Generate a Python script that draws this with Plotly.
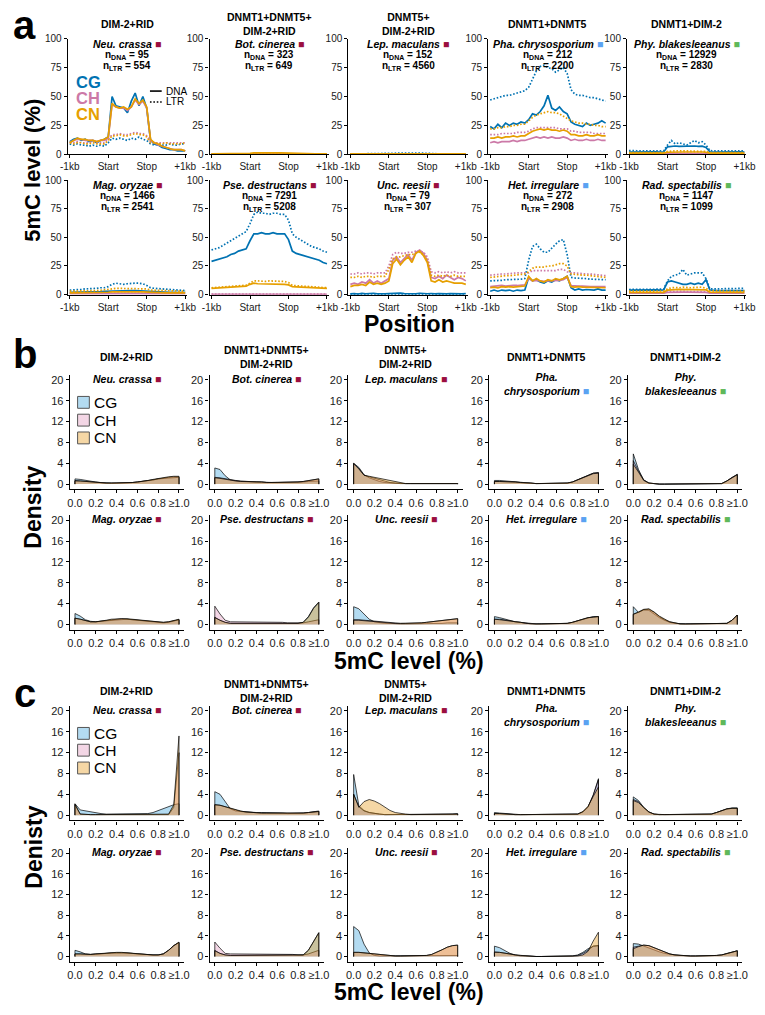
import plotly.graph_objects as go

FONT = "Liberation Sans, Arial, sans-serif"
W, H = 765, 1015
OFF = 8  # the page body adds an 8px margin around the figure

# ---------------- panel a: 5mC profiles over TEs (31 bins) ----------------
POS = list(range(31))
POS_TICKS = [0, 10, 20, 30]
POS_LABELS = ["-1kb", "Start", "Stop", "+1kb"]
LEVEL_TICKS = [0, 25, 50, 75, 100]

NEU_CG_DNA = [11, 13, 14, 12, 13, 11, 12, 10, 12, 13, 15, 50, 42, 41, 40, 36, 46, 53, 42, 50, 40, 12, 9, 8, 6, 5, 4, 4, 3, 3, 3]
NEU_CH_DNA = [10, 12, 13, 13, 12, 12, 12, 11, 12, 12, 14, 43, 41, 40, 40, 38, 41, 47, 43, 46, 40, 12, 10, 8, 7, 6, 5, 4, 4, 4, 3]
NEU_CN_DNA = [10, 12, 14, 13, 13, 12, 12, 11, 12, 13, 15, 44, 41, 40, 41, 39, 41, 48, 44, 47, 41, 13, 10, 9, 7, 6, 5, 4, 4, 4, 3]
NEU_CG_LTR = [9, 8, 9, 8, 8, 7, 8, 7, 8, 7, 10, 14, 13, 14, 13, 12, 14, 13, 15, 13, 12, 9, 8, 9, 8, 8, 9, 8, 8, 9, 9]
NEU_CH_LTR = [10, 10, 11, 10, 10, 10, 11, 10, 10, 10, 13, 17, 17, 18, 17, 17, 18, 19, 18, 18, 16, 11, 10, 10, 10, 10, 10, 10, 10, 10, 10]
NEU_CN_LTR = [10, 9, 10, 10, 9, 9, 10, 9, 9, 9, 12, 16, 16, 17, 16, 16, 17, 18, 17, 17, 15, 10, 10, 9, 9, 10, 9, 9, 9, 9, 10]

BOT_CG_DNA = [0.2, 0.2, 0.3, 0.2, 0.2, 0.3, 0.2, 0.2, 0.3, 0.2, 0.4, 0.5, 0.6, 0.5, 0.6, 0.5, 0.6, 0.5, 0.5, 0.6, 0.4, 0.3, 0.2, 0.2, 0.3, 0.2, 0.2, 0.2, 0.3, 0.2, 0.2]
BOT_CH_DNA = [0.3, 0.3, 0.3, 0.3, 0.4, 0.3, 0.3, 0.3, 0.4, 0.3, 0.5, 0.7, 0.8, 0.7, 0.8, 0.8, 0.9, 0.8, 0.7, 0.7, 0.5, 0.3, 0.3, 0.3, 0.4, 0.3, 0.3, 0.3, 0.3, 0.3, 0.3]
BOT_CN_DNA = [0.4, 0.4, 0.5, 0.4, 0.4, 0.5, 0.4, 0.5, 0.4, 0.5, 0.8, 1.2, 1.3, 1.2, 1.4, 1.3, 1.5, 1.3, 1.2, 1.1, 0.8, 0.5, 0.4, 0.4, 0.5, 0.4, 0.4, 0.4, 0.5, 0.4, 0.4]
BOT_CG_LTR = [0.3, 0.3, 0.3, 0.3, 0.3, 0.3, 0.3, 0.3, 0.3, 0.3, 0.4, 0.5, 0.5, 0.5, 0.5, 0.5, 0.5, 0.5, 0.5, 0.5, 0.4, 0.3, 0.3, 0.3, 0.3, 0.3, 0.3, 0.3, 0.3, 0.3, 0.3]
BOT_CH_LTR = [0.4, 0.4, 0.4, 0.4, 0.4, 0.4, 0.4, 0.4, 0.4, 0.4, 0.5, 0.6, 0.6, 0.6, 0.6, 0.6, 0.6, 0.6, 0.6, 0.6, 0.5, 0.4, 0.4, 0.4, 0.4, 0.4, 0.4, 0.4, 0.4, 0.4, 0.4]
BOT_CN_LTR = [0.5, 0.5, 0.5, 0.5, 0.5, 0.5, 0.5, 0.5, 0.5, 0.5, 0.6, 0.8, 0.8, 0.8, 0.8, 0.8, 0.8, 0.8, 0.8, 0.8, 0.6, 0.5, 0.5, 0.5, 0.5, 0.5, 0.5, 0.5, 0.5, 0.5, 0.5]

LEP_CG_DNA = [0.2, 0.2, 0.2, 0.2, 0.2, 0.2, 0.2, 0.2, 0.2, 0.2, 0.3, 0.4, 0.4, 0.4, 0.4, 0.4, 0.4, 0.4, 0.4, 0.4, 0.3, 0.2, 0.2, 0.2, 0.2, 0.2, 0.2, 0.2, 0.2, 0.2, 0.2]
LEP_CH_DNA = [0.2, 0.2, 0.2, 0.2, 0.2, 0.2, 0.2, 0.2, 0.2, 0.2, 0.2, 0.3, 0.3, 0.3, 0.3, 0.3, 0.3, 0.3, 0.3, 0.3, 0.2, 0.2, 0.2, 0.2, 0.2, 0.2, 0.2, 0.2, 0.2, 0.2, 0.2]
LEP_CN_DNA = [0.3, 0.3, 0.3, 0.3, 0.3, 0.3, 0.3, 0.3, 0.3, 0.3, 0.3, 0.4, 0.4, 0.4, 0.4, 0.4, 0.4, 0.4, 0.4, 0.4, 0.3, 0.3, 0.3, 0.3, 0.3, 0.3, 0.3, 0.3, 0.3, 0.3, 0.3]
LEP_CG_LTR = [0.3, 0.3, 0.3, 0.3, 0.3, 0.3, 0.3, 0.3, 0.3, 0.3, 0.6, 0.9, 1.0, 0.9, 1.1, 1.0, 0.9, 1.0, 1.1, 0.9, 0.6, 0.3, 0.3, 0.3, 0.3, 0.3, 0.3, 0.3, 0.3, 0.3, 0.3]
LEP_CH_LTR = [0.2, 0.2, 0.2, 0.2, 0.2, 0.2, 0.2, 0.2, 0.2, 0.2, 0.3, 0.3, 0.3, 0.3, 0.3, 0.3, 0.3, 0.3, 0.3, 0.3, 0.3, 0.2, 0.2, 0.2, 0.2, 0.2, 0.2, 0.2, 0.2, 0.2, 0.2]
LEP_CN_LTR = [0.3, 0.3, 0.3, 0.3, 0.3, 0.3, 0.3, 0.3, 0.3, 0.3, 0.4, 0.5, 0.5, 0.5, 0.5, 0.5, 0.5, 0.5, 0.5, 0.5, 0.4, 0.3, 0.3, 0.3, 0.3, 0.3, 0.3, 0.3, 0.3, 0.3, 0.3]

PHA_CG_DNA = [24, 22, 26, 23, 27, 25, 27, 26, 28, 27, 30, 35, 34, 37, 42, 51, 40, 38, 41, 37, 35, 28, 26, 25, 24, 27, 25, 26, 27, 29, 27]
PHA_CH_DNA = [10, 11, 10, 11, 11, 11, 12, 11, 12, 12, 13, 14, 15, 14, 15, 14, 15, 14, 14, 15, 14, 12, 13, 12, 12, 13, 12, 12, 13, 12, 12]
PHA_CN_DNA = [14, 14, 15, 14, 15, 15, 16, 15, 16, 16, 18, 20, 21, 22, 21, 22, 21, 21, 20, 21, 20, 17, 17, 16, 16, 17, 16, 16, 17, 16, 16]
PHA_CG_LTR = [47, 48, 49, 50, 51, 51, 52, 53, 54, 55, 58, 65, 72, 76, 77, 75, 74, 71, 73, 75, 70, 56, 52, 51, 51, 50, 49, 49, 48, 47, 46]
PHA_CH_LTR = [17, 17, 17, 18, 18, 18, 18, 19, 19, 19, 20, 22, 23, 23, 23, 23, 23, 23, 22, 22, 22, 20, 20, 19, 19, 19, 19, 18, 18, 18, 18]
PHA_CN_LTR = [22, 22, 23, 23, 24, 24, 25, 25, 26, 26, 29, 32, 34, 35, 36, 37, 36, 36, 35, 33, 31, 29, 28, 27, 27, 26, 26, 25, 25, 24, 24]

PHY_CG_DNA = [2.0, 2.1, 2.0, 2.1, 2.0, 2.1, 2.0, 2.1, 2.0, 2.1, 6.5, 7.0, 7.2, 6.8, 7.0, 6.6, 7.0, 7.2, 6.9, 7.0, 6.0, 2.2, 2.0, 2.1, 2.0, 2.1, 2.0, 2.1, 2.0, 2.1, 2.0]
PHY_CH_DNA = [0.5, 0.5, 0.5, 0.5, 0.5, 0.5, 0.5, 0.5, 0.5, 0.5, 0.7, 0.8, 0.8, 0.8, 0.8, 0.8, 0.8, 0.8, 0.8, 0.8, 0.7, 0.5, 0.5, 0.5, 0.5, 0.5, 0.5, 0.5, 0.5, 0.5, 0.5]
PHY_CN_DNA = [1.0, 1.0, 1.0, 1.0, 1.0, 1.0, 1.0, 1.0, 1.0, 1.0, 1.8, 2.0, 2.0, 2.1, 2.0, 2.0, 2.1, 2.0, 2.0, 2.0, 1.8, 1.0, 1.0, 1.0, 1.0, 1.0, 1.0, 1.0, 1.0, 1.0, 1.0]
PHY_CG_LTR = [3.2, 2.9, 3.1, 3.0, 3.2, 2.9, 3.1, 3.0, 3.2, 3.0, 8.0, 12.0, 9.0, 10.0, 9.0, 8.0, 10.0, 12.0, 10.0, 11.0, 8.0, 3.2, 3.0, 3.1, 2.9, 3.0, 3.2, 3.0, 3.1, 2.9, 3.0]
PHY_CH_LTR = [0.8, 0.8, 0.8, 0.8, 0.8, 0.8, 0.8, 0.8, 0.8, 0.8, 1.0, 1.2, 1.2, 1.2, 1.2, 1.2, 1.2, 1.2, 1.2, 1.2, 1.0, 0.8, 0.8, 0.8, 0.8, 0.8, 0.8, 0.8, 0.8, 0.8, 0.8]
PHY_CN_LTR = [1.5, 1.5, 1.5, 1.5, 1.5, 1.5, 1.5, 1.5, 1.5, 1.5, 2.5, 3.0, 3.0, 3.1, 3.0, 3.0, 3.1, 3.0, 3.0, 3.0, 2.5, 1.6, 1.5, 1.5, 1.5, 1.5, 1.5, 1.5, 1.5, 1.5, 1.5]

MAG_CG_DNA = [2.0, 2.0, 2.0, 2.1, 2.2, 2.2, 2.4, 2.5, 2.6, 2.8, 3.0, 3.2, 3.4, 3.5, 3.4, 3.5, 3.6, 3.5, 3.3, 3.2, 3.0, 2.5, 2.3, 2.2, 2.0, 2.0, 2.0, 2.0, 1.9, 1.8, 1.8]
MAG_CH_DNA = [0.8, 0.8, 0.8, 0.8, 0.8, 0.8, 0.9, 0.9, 0.9, 0.9, 1.0, 1.1, 1.1, 1.1, 1.1, 1.1, 1.1, 1.1, 1.1, 1.1, 1.0, 0.9, 0.9, 0.9, 0.8, 0.8, 0.8, 0.8, 0.8, 0.8, 0.8]
MAG_CN_DNA = [1.5, 1.5, 1.5, 1.6, 1.6, 1.7, 1.7, 1.8, 1.8, 1.9, 2.1, 2.4, 2.5, 2.6, 2.5, 2.6, 2.6, 2.5, 2.5, 2.4, 2.2, 1.8, 1.7, 1.7, 1.6, 1.6, 1.6, 1.5, 1.5, 1.5, 1.5]
MAG_CG_LTR = [4.0, 4.0, 4.2, 4.5, 5.0, 5.0, 5.2, 5.5, 6.0, 6.0, 7.0, 9.0, 10.0, 9.5, 9.0, 9.5, 10.0, 10.0, 10.0, 9.5, 8.0, 6.0, 5.5, 5.2, 5.0, 5.0, 4.5, 4.5, 4.2, 4.0, 3.5]
MAG_CH_LTR = [1.2, 1.2, 1.2, 1.2, 1.3, 1.3, 1.3, 1.3, 1.4, 1.4, 1.5, 1.7, 1.8, 1.8, 1.8, 1.8, 1.8, 1.8, 1.8, 1.7, 1.6, 1.4, 1.4, 1.3, 1.3, 1.3, 1.2, 1.2, 1.2, 1.2, 1.2]
MAG_CN_LTR = [3.0, 3.0, 3.0, 3.2, 3.3, 3.4, 3.5, 3.6, 3.8, 4.0, 4.5, 5.0, 5.5, 5.5, 5.5, 5.6, 5.6, 5.5, 5.5, 5.4, 5.0, 4.0, 3.8, 3.6, 3.5, 3.4, 3.3, 3.2, 3.1, 3.0, 3.0]

PSE_CG_DNA = [29, 30, 31, 32, 33, 35, 36, 38, 39, 40, 47, 53, 53, 54, 53, 53, 54, 53, 53, 53, 48, 38, 36, 35, 34, 33, 32, 31, 30, 28, 27]
PSE_CH_DNA = [0.3, 0.3, 0.3, 0.3, 0.3, 0.3, 0.3, 0.3, 0.3, 0.3, 0.4, 0.4, 0.4, 0.4, 0.4, 0.4, 0.4, 0.4, 0.4, 0.4, 0.4, 0.3, 0.3, 0.3, 0.3, 0.3, 0.3, 0.3, 0.3, 0.3, 0.3]
PSE_CN_DNA = [5.5, 5.7, 6.0, 6.2, 6.4, 6.6, 6.8, 7.0, 7.2, 7.4, 9.0, 10.0, 9.5, 9.5, 9.5, 9.2, 9.2, 9.0, 9.0, 9.0, 8.5, 7.0, 6.8, 6.6, 6.4, 6.2, 6.0, 5.8, 5.6, 5.5, 5.4]
PSE_CG_LTR = [39, 40, 41, 43, 45, 47, 49, 51, 53, 55, 62, 70, 72, 71, 71, 70, 71, 71, 70, 70, 65, 53, 50, 48, 46, 44, 42, 41, 40, 38, 37]
PSE_CH_LTR = [0.4, 0.4, 0.4, 0.4, 0.4, 0.4, 0.4, 0.4, 0.4, 0.4, 0.5, 0.5, 0.5, 0.5, 0.5, 0.5, 0.5, 0.5, 0.5, 0.5, 0.5, 0.4, 0.4, 0.4, 0.4, 0.4, 0.4, 0.4, 0.4, 0.4, 0.4]
PSE_CN_LTR = [6.0, 6.2, 6.5, 6.8, 7.0, 7.2, 7.5, 7.8, 8.0, 8.2, 10.0, 12.0, 12.0, 11.5, 11.5, 12.0, 12.0, 12.0, 11.5, 11.5, 10.5, 8.0, 7.8, 7.5, 7.2, 7.0, 6.8, 6.5, 6.3, 6.0, 6.0]

UNC_CG_DNA = [0.6, 0.9, 0.5, 1.1, 0.7, 0.8, 1.2, 0.6, 0.9, 0.7, 0.8, 1.0, 0.7, 1.3, 0.9, 0.8, 1.1, 0.7, 1.2, 0.9, 0.8, 1.0, 0.6, 0.9, 1.1, 0.7, 0.8, 0.6, 0.9, 0.7, 0.8]
UNC_CH_DNA = [9, 10, 9, 11, 10, 13, 10, 12, 10, 12, 14, 30, 33, 28, 32, 35, 30, 37, 39, 36, 30, 15, 14, 16, 14, 17, 15, 13, 15, 14, 12]
UNC_CN_DNA = [7, 8, 8, 9, 8, 11, 9, 10, 9, 10, 12, 27, 31, 26, 30, 33, 28, 36, 38, 34, 28, 12, 11, 13, 11, 12, 11, 10, 10, 10, 9]
UNC_CG_LTR = [0.5, 0.5, 0.6, 0.5, 0.5, 0.6, 0.5, 0.5, 0.6, 0.5, 0.6, 0.7, 0.7, 0.7, 0.7, 0.7, 0.7, 0.7, 0.7, 0.7, 0.6, 0.5, 0.5, 0.6, 0.5, 0.5, 0.6, 0.5, 0.5, 0.5, 0.5]
UNC_CH_LTR = [18, 18, 19, 18, 19, 19, 18, 19, 19, 19, 25, 35, 37, 36, 36, 37, 37, 38, 38, 37, 33, 20, 19, 20, 19, 20, 19, 20, 19, 19, 19]
UNC_CN_LTR = [15, 15, 16, 15, 16, 16, 15, 16, 16, 16, 22, 31, 33, 33, 34, 35, 35, 36, 37, 35, 30, 17, 16, 17, 16, 17, 16, 17, 16, 16, 16]

HET_CG_DNA = [3, 4, 3, 4, 3.5, 4, 3, 4, 3.5, 4, 15, 12, 13, 11, 10, 12, 11, 13, 12, 14, 16, 6, 4, 5, 4, 4.5, 4, 4, 5, 4, 4]
HET_CH_DNA = [7, 7.5, 7.5, 8, 7.5, 8, 8, 8, 8, 8.5, 14, 12, 12.5, 12, 11.5, 12, 12, 12.5, 12.5, 13, 15, 8, 7.5, 7.5, 7.5, 7, 7, 7, 7, 7, 7]
HET_CN_DNA = [6, 6.5, 6, 7, 6.5, 7, 6.5, 7, 7, 7.5, 16, 12, 14, 12, 11, 13, 12, 14, 13, 14, 16, 7, 6.5, 7, 6.5, 6.5, 6, 6.5, 6.5, 6, 6]
HET_CG_LTR = [12, 12, 12.5, 12.5, 13, 13, 13, 13.5, 13.5, 14, 30, 42, 44, 40, 37, 37, 41, 44, 47, 48, 35, 15, 14.5, 14.5, 14, 14, 13.5, 13.5, 13, 13, 13]
HET_CH_LTR = [17, 17.5, 18, 18, 18, 18.5, 18.5, 19, 19, 19, 19, 21, 21, 21, 21, 21, 21, 21, 22, 22, 20, 19, 19, 18.5, 18.5, 18, 18, 17.5, 17.5, 17, 16.5]
HET_CN_LTR = [15, 15.5, 16, 16, 16.5, 16.5, 17, 17, 17.5, 18, 20, 23, 24, 24, 24, 25, 25, 26, 27, 27, 25, 18, 17.5, 17.5, 17, 17, 16.5, 16.5, 16, 15.5, 15]

RAD_CG_DNA = [4.0, 4.1, 3.9, 4.0, 4.1, 3.9, 4.0, 4.1, 4.0, 4.1, 11.0, 12.0, 11.0, 10.0, 9.0, 9.0, 10.0, 9.0, 10.0, 9.0, 13.0, 4.0, 3.6, 3.5, 3.6, 3.5, 3.6, 3.5, 3.6, 3.5, 3.5]
RAD_CH_DNA = [1.2, 1.2, 1.2, 1.2, 1.2, 1.2, 1.2, 1.2, 1.2, 1.2, 2.0, 2.2, 2.2, 2.2, 2.2, 2.2, 2.2, 2.2, 2.2, 2.2, 2.0, 1.3, 1.2, 1.2, 1.2, 1.2, 1.2, 1.2, 1.2, 1.2, 1.2]
RAD_CN_DNA = [2.0, 2.0, 2.0, 2.0, 2.0, 2.0, 2.0, 2.0, 2.0, 2.0, 4.0, 4.5, 4.4, 4.6, 4.5, 4.4, 4.6, 4.5, 4.5, 4.6, 4.2, 2.2, 2.1, 2.0, 2.0, 2.0, 2.0, 2.0, 2.0, 2.0, 2.0]
RAD_CG_LTR = [4.5, 4.5, 4.5, 4.6, 4.6, 4.7, 4.7, 4.8, 4.8, 4.8, 12.0, 16.0, 17.0, 18.0, 22.0, 17.0, 18.0, 19.0, 19.0, 19.0, 14.0, 5.0, 5.0, 5.0, 5.0, 5.0, 5.0, 5.0, 5.0, 5.5, 5.5]
RAD_CH_LTR = [1.5, 1.5, 1.5, 1.5, 1.5, 1.5, 1.5, 1.5, 1.5, 1.5, 2.5, 2.8, 2.8, 2.8, 2.8, 2.8, 2.8, 2.8, 2.8, 2.8, 2.5, 1.6, 1.5, 1.5, 1.5, 1.5, 1.5, 1.5, 1.5, 1.5, 1.5]
RAD_CN_LTR = [3.0, 3.0, 3.1, 3.0, 3.1, 3.0, 3.2, 3.1, 3.2, 3.2, 5.0, 6.0, 6.2, 6.0, 6.5, 6.2, 6.0, 6.3, 6.4, 6.5, 5.5, 3.4, 3.3, 3.3, 3.2, 3.2, 3.1, 3.1, 3.0, 3.0, 3.0]

# ---------------- panels b/c: density of 5mC level ----------------
DENS_X = [0.0, 0.05, 0.1, 0.15, 0.2, 0.25, 0.3, 0.35, 0.4, 0.45, 0.5,
          0.55, 0.6, 0.65, 0.7, 0.75, 0.8, 0.85, 0.9, 0.95, 1.0]
DENS_TICKS = [0.0, 0.2, 0.4, 0.6, 0.8, 1.0]
DENS_LABELS = ["0.0", "0.2", "0.4", "0.6", "0.8", "≥1.0"]
DENS_YTICKS = [0, 4, 8, 12, 16, 20]

# panel b
B_NEU_CG = [1.0, 0.9, 0.7, 0.5, 0.4, 0.3, 0.2, 0.2, 0.2, 0.2, 0.3, 0.3, 0.4, 0.5, 0.6, 0.8, 1.0, 1.1, 1.2, 1.3, 1.3]
B_NEU_CH = [0.7, 0.6, 0.5, 0.4, 0.3, 0.3, 0.2, 0.2, 0.2, 0.2, 0.3, 0.3, 0.4, 0.5, 0.6, 0.8, 1.0, 1.2, 1.3, 1.4, 1.4]
B_NEU_CN = [0.6, 0.6, 0.5, 0.4, 0.3, 0.3, 0.2, 0.2, 0.2, 0.2, 0.3, 0.3, 0.4, 0.5, 0.7, 0.9, 1.1, 1.3, 1.4, 1.5, 1.5]
B_BOT_CG = [3.1, 2.8, 1.6, 0.8, 0.6, 0.5, 0.5, 0.5, 0.4, 0.4, 0.3, 0.3, 0.3, 0.3, 0.3, 0.3, 0.3, 0.4, 0.5, 0.6, 0.6]
B_BOT_CH = [1.3, 1.2, 1.0, 0.8, 0.7, 0.6, 0.5, 0.5, 0.4, 0.4, 0.3, 0.3, 0.3, 0.3, 0.3, 0.3, 0.4, 0.5, 0.7, 0.9, 1.0]
B_BOT_CN = [1.2, 1.1, 0.9, 0.7, 0.6, 0.5, 0.5, 0.4, 0.4, 0.4, 0.3, 0.3, 0.3, 0.3, 0.3, 0.3, 0.4, 0.5, 0.7, 0.9, 1.0]
B_LEP_CG = [4.0, 3.2, 1.8, 1.2, 0.8, 0.5, 0.3, 0.2, 0.1, 0.1, 0.1, 0.1, 0.1, 0.1, 0.1, 0.1, 0.1, 0.1, 0.1, 0.1, 0.1]
B_LEP_CH = [4.0, 3.0, 1.7, 1.4, 1.1, 0.8, 0.5, 0.3, 0.2, 0.1, 0.1, 0.1, 0.1, 0.1, 0.1, 0.1, 0.1, 0.1, 0.1, 0.1, 0.1]
B_LEP_CN = [3.9, 2.9, 1.7, 1.5, 1.3, 1.1, 0.9, 0.6, 0.4, 0.2, 0.1, 0.1, 0.1, 0.1, 0.1, 0.1, 0.1, 0.1, 0.1, 0.1, 0.1]
B_PHA_CG = [0.7, 0.7, 0.6, 0.5, 0.4, 0.3, 0.3, 0.2, 0.1, 0.1, 0.1, 0.1, 0.1, 0.1, 0.2, 0.4, 0.8, 1.2, 1.7, 2.1, 2.2]
B_PHA_CH = [0.5, 0.5, 0.5, 0.4, 0.4, 0.3, 0.3, 0.2, 0.1, 0.1, 0.1, 0.1, 0.1, 0.1, 0.2, 0.4, 0.8, 1.2, 1.7, 2.1, 2.2]
B_PHA_CN = [0.5, 0.5, 0.5, 0.4, 0.4, 0.3, 0.3, 0.2, 0.1, 0.1, 0.1, 0.1, 0.1, 0.1, 0.2, 0.4, 0.8, 1.2, 1.7, 2.0, 2.1]
B_PHY_CG = [5.8, 2.8, 0.8, 0.2, 0.05, 0.0, 0.0, 0.0, 0.0, 0.0, 0.0, 0.0, 0.0, 0.0, 0.0, 0.0, 0.0, 0.1, 0.6, 1.3, 1.9]
B_PHY_CH = [4.5, 2.5, 0.8, 0.2, 0.05, 0.0, 0.0, 0.0, 0.0, 0.0, 0.0, 0.0, 0.0, 0.0, 0.0, 0.0, 0.0, 0.1, 0.6, 1.3, 1.8]
B_PHY_CN = [3.8, 2.3, 0.7, 0.2, 0.05, 0.0, 0.0, 0.0, 0.0, 0.0, 0.0, 0.0, 0.0, 0.0, 0.0, 0.0, 0.0, 0.1, 0.6, 1.2, 1.8]
B_MAG_CG = [2.1, 1.6, 0.9, 0.6, 0.5, 0.6, 0.7, 0.8, 0.9, 1.0, 1.0, 0.9, 0.8, 0.7, 0.6, 0.5, 0.4, 0.3, 0.4, 0.7, 0.9]
B_MAG_CH = [1.2, 1.0, 0.7, 0.5, 0.5, 0.6, 0.8, 0.9, 1.0, 1.1, 1.0, 0.9, 0.8, 0.7, 0.6, 0.5, 0.4, 0.4, 0.5, 0.7, 0.9]
B_MAG_CN = [1.2, 1.0, 0.7, 0.5, 0.5, 0.6, 0.8, 1.0, 1.1, 1.1, 1.1, 1.0, 0.9, 0.7, 0.6, 0.5, 0.4, 0.4, 0.5, 0.8, 1.0]
B_PSE_CG = [1.4, 0.8, 0.4, 0.2, 0.2, 0.2, 0.2, 0.2, 0.2, 0.2, 0.2, 0.2, 0.2, 0.2, 0.2, 0.2, 0.2, 0.4, 1.5, 3.2, 4.3]
B_PSE_CH = [3.5, 2.0, 0.8, 0.5, 0.5, 0.5, 0.5, 0.5, 0.5, 0.5, 0.4, 0.4, 0.4, 0.4, 0.3, 0.3, 0.2, 0.3, 0.5, 0.7, 0.9]
B_PSE_CN = [1.3, 0.8, 0.4, 0.2, 0.2, 0.2, 0.2, 0.2, 0.2, 0.2, 0.2, 0.2, 0.2, 0.2, 0.2, 0.2, 0.2, 0.4, 1.4, 3.1, 4.2]
B_UNC_CG = [3.4, 3.0, 2.0, 1.0, 0.5, 0.3, 0.2, 0.2, 0.1, 0.1, 0.1, 0.1, 0.1, 0.1, 0.1, 0.1, 0.2, 0.2, 0.3, 0.3, 0.3]
B_UNC_CH = [0.9, 0.9, 0.8, 0.7, 0.6, 0.5, 0.4, 0.3, 0.2, 0.2, 0.2, 0.2, 0.2, 0.3, 0.4, 0.5, 0.7, 0.8, 0.9, 1.0, 1.1]
B_UNC_CN = [0.8, 0.8, 0.7, 0.7, 0.6, 0.5, 0.4, 0.3, 0.2, 0.2, 0.2, 0.2, 0.2, 0.3, 0.4, 0.5, 0.7, 0.8, 0.9, 1.0, 1.1]
B_HET_CG = [1.5, 1.3, 1.0, 0.8, 0.5, 0.4, 0.2, 0.1, 0.1, 0.1, 0.1, 0.1, 0.1, 0.1, 0.2, 0.4, 0.7, 1.0, 1.3, 1.5, 1.5]
B_HET_CH = [1.0, 1.0, 0.9, 0.7, 0.5, 0.4, 0.2, 0.1, 0.1, 0.1, 0.1, 0.1, 0.1, 0.1, 0.2, 0.4, 0.7, 1.0, 1.3, 1.4, 1.5]
B_HET_CN = [1.0, 0.9, 0.8, 0.7, 0.5, 0.4, 0.2, 0.1, 0.1, 0.1, 0.1, 0.1, 0.1, 0.1, 0.2, 0.4, 0.7, 1.0, 1.3, 1.4, 1.5]
B_RAD_CG = [3.4, 2.3, 2.8, 2.7, 2.0, 1.3, 0.8, 0.4, 0.2, 0.1, 0.1, 0.1, 0.1, 0.1, 0.1, 0.1, 0.1, 0.1, 0.2, 0.8, 1.8]
B_RAD_CH = [2.0, 2.3, 2.8, 2.9, 2.3, 1.5, 0.9, 0.5, 0.3, 0.1, 0.1, 0.1, 0.1, 0.1, 0.1, 0.1, 0.1, 0.1, 0.2, 0.8, 1.8]
B_RAD_CN = [1.9, 2.4, 2.9, 3.0, 2.4, 1.6, 1.0, 0.5, 0.3, 0.1, 0.1, 0.1, 0.1, 0.1, 0.1, 0.1, 0.1, 0.1, 0.2, 0.8, 1.8]

# panel c
C_NEU_CG = [2.2, 1.0, 0.8, 0.6, 0.4, 0.3, 0.2, 0.2, 0.2, 0.2, 0.2, 0.2, 0.2, 0.2, 0.3, 0.5, 0.9, 1.3, 1.7, 2.0, 2.2]
C_NEU_CH = [2.0, 0.2, 0.1, 0.1, 0.1, 0.1, 0.2, 0.2, 0.1, 0.2, 0.1, 0.1, 0.1, 0.1, 0.1, 0.1, 0.1, 0.1, 0.1, 1.5, 12.0]
C_NEU_CN = [2.1, 0.2, 0.1, 0.1, 0.1, 0.1, 0.2, 0.2, 0.1, 0.2, 0.1, 0.1, 0.1, 0.1, 0.1, 0.1, 0.1, 0.1, 0.2, 2.0, 15.2]
C_BOT_CG = [4.5, 4.0, 2.6, 1.2, 0.8, 0.7, 0.6, 0.6, 0.5, 0.5, 0.5, 0.4, 0.4, 0.4, 0.3, 0.3, 0.3, 0.4, 0.5, 0.7, 0.8]
C_BOT_CH = [2.0, 1.9, 1.6, 1.2, 0.9, 0.7, 0.6, 0.5, 0.5, 0.4, 0.4, 0.4, 0.3, 0.3, 0.3, 0.3, 0.3, 0.4, 0.5, 0.6, 0.7]
C_BOT_CN = [2.0, 1.9, 1.6, 1.3, 1.0, 0.8, 0.6, 0.5, 0.5, 0.4, 0.4, 0.4, 0.3, 0.3, 0.3, 0.3, 0.3, 0.4, 0.5, 0.6, 0.7]
C_LEP_CG = [7.8, 1.8, 0.9, 0.5, 0.3, 0.2, 0.1, 0.1, 0.1, 0.1, 0.1, 0.1, 0.1, 0.1, 0.1, 0.1, 0.1, 0.1, 0.1, 0.2, 0.3]
C_LEP_CH = [4.0, 1.6, 0.8, 0.5, 0.3, 0.2, 0.1, 0.1, 0.1, 0.1, 0.1, 0.1, 0.1, 0.1, 0.1, 0.1, 0.1, 0.1, 0.1, 0.1, 0.2]
C_LEP_CN = [4.0, 1.5, 2.6, 3.0, 2.7, 2.2, 1.5, 0.9, 0.5, 0.3, 0.2, 0.1, 0.1, 0.1, 0.1, 0.1, 0.1, 0.1, 0.1, 0.1, 0.2]
C_PHA_CG = [0.5, 0.4, 0.3, 0.2, 0.1, 0.1, 0.1, 0.1, 0.1, 0.1, 0.1, 0.1, 0.1, 0.1, 0.1, 0.1, 0.2, 0.6, 1.5, 3.8, 7.0]
C_PHA_CH = [0.3, 0.3, 0.2, 0.2, 0.1, 0.1, 0.1, 0.1, 0.1, 0.1, 0.1, 0.1, 0.1, 0.1, 0.1, 0.1, 0.2, 0.6, 1.6, 3.9, 6.8]
C_PHA_CN = [0.3, 0.3, 0.2, 0.2, 0.1, 0.1, 0.1, 0.1, 0.1, 0.1, 0.1, 0.1, 0.1, 0.1, 0.1, 0.1, 0.2, 0.7, 1.7, 3.6, 5.4]
C_PHY_CG = [3.5, 2.8, 1.5, 0.6, 0.2, 0.1, 0.1, 0.1, 0.1, 0.1, 0.1, 0.1, 0.1, 0.1, 0.1, 0.2, 0.5, 0.9, 1.2, 1.4, 1.4]
C_PHY_CH = [3.0, 2.6, 1.4, 0.6, 0.2, 0.1, 0.1, 0.1, 0.1, 0.1, 0.1, 0.1, 0.1, 0.1, 0.1, 0.2, 0.5, 0.9, 1.2, 1.3, 1.3]
C_PHY_CN = [2.8, 2.4, 1.4, 0.6, 0.2, 0.1, 0.1, 0.1, 0.1, 0.1, 0.1, 0.1, 0.1, 0.1, 0.1, 0.2, 0.5, 0.9, 1.2, 1.3, 1.3]
C_MAG_CG = [1.2, 0.9, 0.5, 0.4, 0.4, 0.5, 0.6, 0.7, 0.7, 0.7, 0.7, 0.6, 0.5, 0.4, 0.3, 0.3, 0.3, 0.5, 1.2, 2.1, 2.7]
C_MAG_CH = [0.5, 0.5, 0.4, 0.4, 0.5, 0.5, 0.6, 0.7, 0.7, 0.8, 0.7, 0.6, 0.5, 0.4, 0.3, 0.3, 0.3, 0.5, 1.2, 2.1, 2.7]
C_MAG_CN = [0.5, 0.5, 0.4, 0.4, 0.5, 0.6, 0.6, 0.7, 0.8, 0.8, 0.7, 0.6, 0.5, 0.4, 0.3, 0.3, 0.3, 0.5, 1.2, 2.1, 2.8]
C_PSE_CG = [1.2, 0.6, 0.3, 0.2, 0.2, 0.2, 0.2, 0.2, 0.2, 0.2, 0.2, 0.2, 0.2, 0.2, 0.2, 0.2, 0.2, 0.3, 1.2, 2.8, 4.6]
C_PSE_CH = [2.8, 1.6, 0.6, 0.5, 0.5, 0.5, 0.5, 0.5, 0.5, 0.5, 0.5, 0.4, 0.4, 0.4, 0.4, 0.4, 0.3, 0.3, 0.5, 0.9, 1.2]
C_PSE_CN = [1.1, 0.6, 0.3, 0.2, 0.2, 0.2, 0.2, 0.2, 0.2, 0.2, 0.2, 0.2, 0.2, 0.2, 0.2, 0.2, 0.2, 0.3, 1.2, 2.8, 4.6]
C_UNC_CG = [5.8, 5.0, 2.4, 0.7, 0.2, 0.1, 0.1, 0.1, 0.1, 0.1, 0.1, 0.1, 0.1, 0.1, 0.1, 0.1, 0.1, 0.1, 0.1, 0.1, 0.2]
C_UNC_CH = [0.8, 0.8, 0.7, 0.5, 0.4, 0.3, 0.2, 0.2, 0.1, 0.1, 0.1, 0.1, 0.1, 0.1, 0.2, 0.4, 0.8, 1.3, 1.8, 2.1, 2.2]
C_UNC_CN = [0.8, 0.8, 0.7, 0.5, 0.4, 0.3, 0.2, 0.2, 0.1, 0.1, 0.1, 0.1, 0.1, 0.1, 0.2, 0.4, 0.8, 1.3, 1.8, 2.1, 2.2]
C_HET_CG = [2.0, 1.7, 1.1, 0.6, 0.3, 0.1, 0.1, 0.0, 0.0, 0.0, 0.0, 0.0, 0.0, 0.0, 0.0, 0.1, 0.3, 0.8, 1.5, 2.0, 2.1]
C_HET_CH = [0.9, 0.8, 0.7, 0.5, 0.3, 0.2, 0.1, 0.0, 0.0, 0.0, 0.0, 0.0, 0.0, 0.0, 0.0, 0.1, 0.2, 0.6, 1.2, 2.0, 2.1]
C_HET_CN = [0.8, 0.8, 0.6, 0.5, 0.3, 0.2, 0.1, 0.0, 0.0, 0.0, 0.0, 0.0, 0.0, 0.0, 0.0, 0.0, 0.1, 0.3, 1.0, 3.0, 4.7]
C_RAD_CG = [2.5, 2.4, 2.0, 1.7, 1.3, 0.9, 0.6, 0.4, 0.3, 0.2, 0.1, 0.1, 0.1, 0.1, 0.1, 0.1, 0.2, 0.3, 0.6, 0.9, 1.1]
C_RAD_CH = [1.8, 2.0, 2.2, 2.1, 1.7, 1.2, 0.8, 0.5, 0.3, 0.2, 0.1, 0.1, 0.1, 0.1, 0.1, 0.1, 0.2, 0.3, 0.6, 0.9, 1.1]
C_RAD_CN = [1.5, 1.9, 2.2, 2.1, 1.7, 1.2, 0.8, 0.5, 0.3, 0.2, 0.1, 0.1, 0.1, 0.1, 0.1, 0.1, 0.2, 0.3, 0.6, 0.9, 1.1]

# ---------------- labels ----------------
GROUPS = ["DIM-2+RID", "DNMT1+DNMT5+<br>DIM-2+RID", "DNMT5+<br>DIM-2+RID", "DNMT1+DNMT5", "DNMT1+DIM-2"]
SPECIES = [["Neu. crassa", "Bot. cinerea", "Lep. maculans", "Pha. chrysosporium", "Phy. blakesleeanus"],
           ["Mag. oryzae", "Pse. destructans", "Unc. reesii", "Het. irregulare", "Rad. spectabilis"]]
SPECIES_WRAPPED = [["Neu. crassa", "Bot. cinerea", "Lep. maculans", "Pha.<br>chrysosporium", "Phy.<br>blakesleeanus"],
                   SPECIES[1]]
N_DNA = [[95, 323, 152, 212, 12929], [1466, 7291, 79, 272, 1147]]
N_LTR = [[554, 649, 4560, 2200, 2830], [2541, 5208, 307, 2908, 1099]]

RED, LBLUE, GREEN = "#9b0f3f", "#5aa2f2", "#5fb85a"
TAG = [[RED, RED, RED, LBLUE, GREEN], [RED, RED, RED, LBLUE, GREEN]]

CG_COL, CH_COL, CN_COL = "#0072B2", "#CC79A7", "#E69F00"
CG_FILL, CH_FILL, CN_FILL = "rgba(86,175,225,0.45)", "rgba(214,120,170,0.30)", "rgba(232,160,40,0.42)"

PROFILES = [
    [(NEU_CG_DNA, NEU_CH_DNA, NEU_CN_DNA, NEU_CG_LTR, NEU_CH_LTR, NEU_CN_LTR),
     (BOT_CG_DNA, BOT_CH_DNA, BOT_CN_DNA, BOT_CG_LTR, BOT_CH_LTR, BOT_CN_LTR),
     (LEP_CG_DNA, LEP_CH_DNA, LEP_CN_DNA, LEP_CG_LTR, LEP_CH_LTR, LEP_CN_LTR),
     (PHA_CG_DNA, PHA_CH_DNA, PHA_CN_DNA, PHA_CG_LTR, PHA_CH_LTR, PHA_CN_LTR),
     (PHY_CG_DNA, PHY_CH_DNA, PHY_CN_DNA, PHY_CG_LTR, PHY_CH_LTR, PHY_CN_LTR)],
    [(MAG_CG_DNA, MAG_CH_DNA, MAG_CN_DNA, MAG_CG_LTR, MAG_CH_LTR, MAG_CN_LTR),
     (PSE_CG_DNA, PSE_CH_DNA, PSE_CN_DNA, PSE_CG_LTR, PSE_CH_LTR, PSE_CN_LTR),
     (UNC_CG_DNA, UNC_CH_DNA, UNC_CN_DNA, UNC_CG_LTR, UNC_CH_LTR, UNC_CN_LTR),
     (HET_CG_DNA, HET_CH_DNA, HET_CN_DNA, HET_CG_LTR, HET_CH_LTR, HET_CN_LTR),
     (RAD_CG_DNA, RAD_CH_DNA, RAD_CN_DNA, RAD_CG_LTR, RAD_CH_LTR, RAD_CN_LTR)],
]
DENS_B = [
    [(B_NEU_CG, B_NEU_CH, B_NEU_CN), (B_BOT_CG, B_BOT_CH, B_BOT_CN), (B_LEP_CG, B_LEP_CH, B_LEP_CN),
     (B_PHA_CG, B_PHA_CH, B_PHA_CN), (B_PHY_CG, B_PHY_CH, B_PHY_CN)],
    [(B_MAG_CG, B_MAG_CH, B_MAG_CN), (B_PSE_CG, B_PSE_CH, B_PSE_CN), (B_UNC_CG, B_UNC_CH, B_UNC_CN),
     (B_HET_CG, B_HET_CH, B_HET_CN), (B_RAD_CG, B_RAD_CH, B_RAD_CN)],
]
DENS_C = [
    [(C_NEU_CG, C_NEU_CH, C_NEU_CN), (C_BOT_CG, C_BOT_CH, C_BOT_CN), (C_LEP_CG, C_LEP_CH, C_LEP_CN),
     (C_PHA_CG, C_PHA_CH, C_PHA_CN), (C_PHY_CG, C_PHY_CH, C_PHY_CN)],
    [(C_MAG_CG, C_MAG_CH, C_MAG_CN), (C_PSE_CG, C_PSE_CH, C_PSE_CN), (C_UNC_CG, C_UNC_CH, C_UNC_CN),
     (C_HET_CG, C_HET_CH, C_HET_CN), (C_RAD_CG, C_RAD_CH, C_RAD_CN)],
]

# ---------------- layout geometry (screen pixels) ----------------
A_COLS, A_W = [61, 206, 348, 491, 633], 122
A_ROWS = [(33, 150), (176, 292)]
D_COLS, D_W = [63, 206, 348, 492, 634], 117
B_ROWS = [(373, 489), (515, 631)]
C_ROWS = [(708, 824), (852, 967)]


def fx(p):
    return (p - OFF) / W


def fy(p):
    return 1 - (p - OFF) / H


AX = dict(showline=True, linecolor="black", linewidth=1.3, ticks="outside", ticklen=3,
          tickwidth=1, tickcolor="black", showgrid=False, zeroline=False, fixedrange=True,
          tickfont=dict(family=FONT, size=10.5, color="#1a1a1a"))

fig = go.Figure()
axes = {}
annotations = []
shapes = []
count = [0]


def new_axes(left, width, top, bottom, xr, yr, xt, xl, yt, tsize):
    count[0] += 1
    n = count[0]
    s = "" if n == 1 else str(n)
    tf = dict(AX["tickfont"], size=tsize)
    axes["xaxis" + s] = dict(AX, domain=[fx(left), fx(left + width)], anchor="y" + s, range=xr,
                             tickvals=xt, ticktext=xl, tickfont=tf)
    axes["yaxis" + s] = dict(AX, domain=[fy(bottom), fy(top)], anchor="x" + s, range=yr,
                             tickvals=yt, tickfont=tf)
    return "x" + s, "y" + s


def text(x, y, s, size, color="black", **kw):
    annotations.append(dict(x=fx(x), y=fy(y), xref="paper", yref="paper", text=s,
                            showarrow=False, font=dict(family=FONT, size=size, color=color),
                            xanchor=kw.pop("xanchor", "center"), yanchor=kw.pop("yanchor", "middle"), **kw))


# ---- panel a
LTR_DASH = "1.6px,1.8px"
for r, (top, bot) in enumerate(A_ROWS):
    for c, left in enumerate(A_COLS):
        xa, ya = new_axes(left, A_W, top, bot, [-0.5, 30.5], [0, 100], POS_TICKS, POS_LABELS, LEVEL_TICKS, 10)
        cg_d, ch_d, cn_d, cg_l, ch_l, cn_l = PROFILES[r][c]
        for vals, col, dash in [(cg_l, CG_COL, LTR_DASH), (cg_d, CG_COL, "solid"),
                                (ch_l, CH_COL, LTR_DASH), (ch_d, CH_COL, "solid"),
                                (cn_l, CN_COL, LTR_DASH), (cn_d, CN_COL, "solid")]:
            fig.add_trace(go.Scatter(x=POS, y=vals, xaxis=xa, yaxis=ya, mode="lines",
                                     line=dict(color=col, width=1.7, dash=dash),
                                     showlegend=False, hoverinfo="skip"))
        cx = left + A_W / 2
        text(cx, top + 5, f"<b><i>{SPECIES[r][c]}</i></b> <span style='color:{TAG[r][c]}'>■</span>", 10.5)
        text(cx, top + 16, f"<b>n<sub>DNA</sub> = {N_DNA[r][c]}</b>", 10)
        text(cx, top + 27.5, f"<b>n<sub>LTR</sub> = {N_LTR[r][c]}</b>", 10)

# ---- panels b and c
for rows, dens in [(B_ROWS, DENS_B), (C_ROWS, DENS_C)]:
    for r, (top, bot) in enumerate(rows):
        for c, left in enumerate(D_COLS):
            xa, ya = new_axes(left, D_W, top, bot, [-0.05, 1.05], [-1, 21], DENS_TICKS, DENS_LABELS, DENS_YTICKS, 11)
            for vals, fill in zip(dens[r][c], [CG_FILL, CH_FILL, CN_FILL]):
                fig.add_trace(go.Scatter(x=[DENS_X[0]] + DENS_X + [DENS_X[-1]], y=[0] + vals + [0],
                                         xaxis=xa, yaxis=ya, mode="lines", fill="toself", fillcolor=fill,
                                         line=dict(color="black", width=0.7),
                                         showlegend=False, hoverinfo="skip"))
            cx = left + D_W / 2
            name = SPECIES_WRAPPED[r][c]
            off = 9 if "<br>" in name else 4
            text(cx, top + off, f"<b><i>{name}</i></b> <span style='color:{TAG[r][c]}'>■</span>", 10.5)

# column titles
for c, left in enumerate(A_COLS):
    text(left + A_W / 2, 18, f"<b>{GROUPS[c]}</b>", 10.5)
for ty in [355, 693]:
    for c, left in enumerate(D_COLS):
        text(left + D_W / 2, ty, f"<b>{GROUPS[c]}</b>", 10.5)

# panel letters and axis titles
text(17, 19, "<b>a</b>", 40)
text(17, 352, "<b>b</b>", 40)
text(17, 695, "<b>c</b>", 40)
text(24, 166, "<b>5mC level (%)</b>", 22, textangle=-90)
text(410, 322, "<b>Position</b>", 23)
text(26, 507, "<b>Density</b>", 23, textangle=-90)
text(410, 663, "<b>5mC level (%)</b>", 23)
text(26, 851, "<b>Denisty</b>", 23, textangle=-90)
text(410, 998, "<b>5mC level (%)</b>", 23)

# panel a legend
for lab, col, y in [("CG", CG_COL, 77), ("CH", CH_COL, 93), ("CN", CN_COL, 109)]:
    text(67, y, f"<b>{lab}</b>", 16.5, color=col, xanchor="left")
for lab, dash, y in [("DNA", "solid", 86), ("LTR", LTR_DASH, 97)]:
    shapes.append(dict(type="line", xref="paper", yref="paper", x0=fx(145), x1=fx(157), y0=fy(y), y1=fy(y),
                       line=dict(color="black", width=1.6, dash=dash)))
    text(159, y, lab, 10, xanchor="left")

# panels b/c legends
for ys in [(401, 419, 437), (736, 753, 771)]:
    for lab, fill, y in zip(["CG", "CH", "CN"], [CG_FILL, CH_FILL, CN_FILL], ys):
        shapes.append(dict(type="rect", xref="paper", yref="paper", x0=fx(71), x1=fx(83),
                           y0=fy(y + 6), y1=fy(y - 6), fillcolor=fill, line=dict(color="#555555", width=1)))
        text(86, y, lab, 15.5, xanchor="left")

fig.update_layout(width=W, height=H, margin=dict(l=0, r=0, t=0, b=0),
                  paper_bgcolor="white", plot_bgcolor="white",
                  annotations=annotations, shapes=shapes, **axes)

fig.write_html("out.html")
